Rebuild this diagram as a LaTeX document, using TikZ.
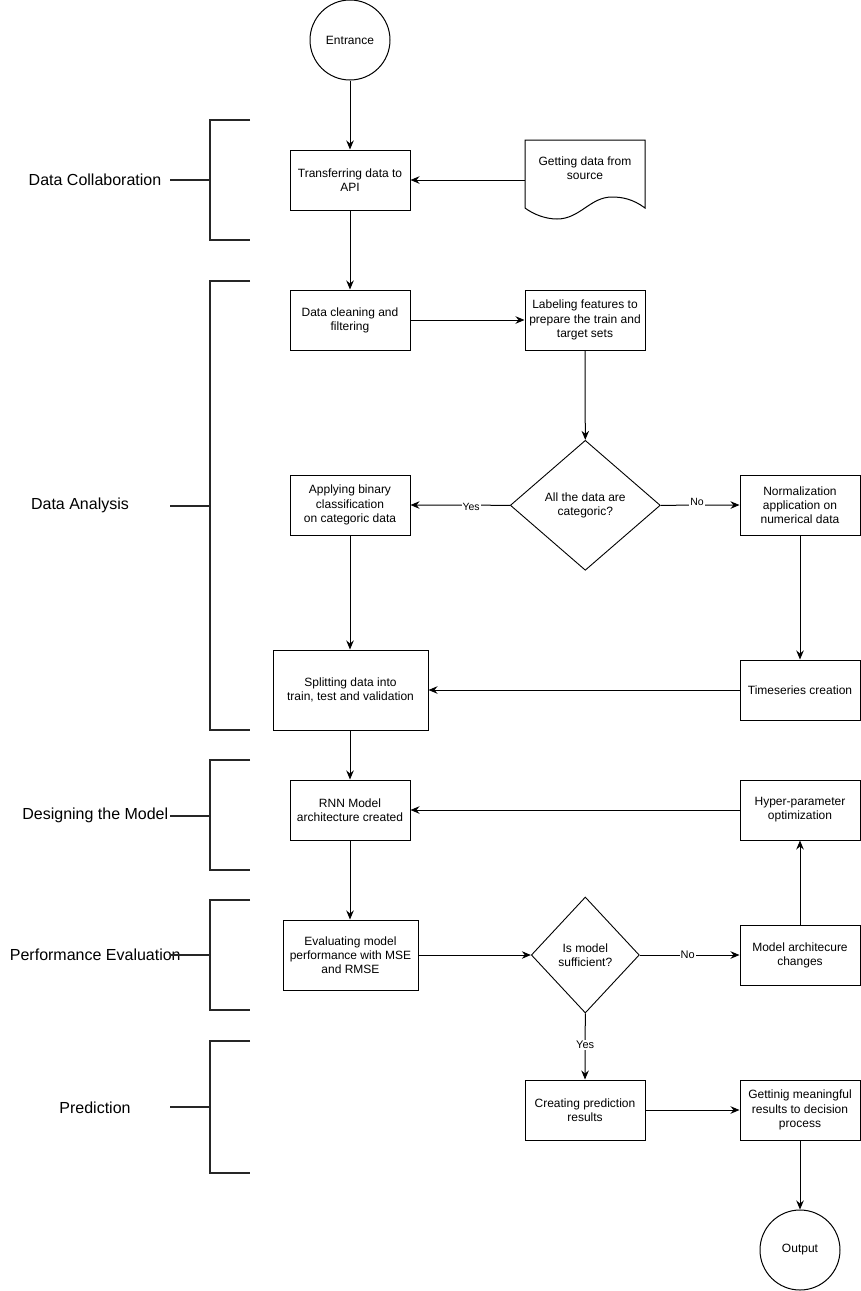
\documentclass[tikz,border=0pt]{standalone}
\usepackage{fontspec}
\setmainfont{Liberation Sans}
\usetikzlibrary{shapes.geometric,arrows.meta}
\begin{document}
\begin{tikzpicture}[x=1pt,y=-1pt,
 box/.style={draw,line width=1pt,align=center,inner sep=0pt,minimum width=120pt,minimum height=60pt,font=\fontsize{12}{14.2}\selectfont},
 dec/.style={diamond,draw,line width=0.9pt,align=center,inner sep=0pt,font=\fontsize{12}{14.2}\selectfont},
 term/.style={circle,draw,line width=1pt,minimum size=80pt,inner sep=0pt,font=\fontsize{12}{14}\selectfont},
 arr/.style={line width=1pt,-{Stealth[length=9pt,width=7.5pt,inset=3pt]}},
 labA/.style={font=\fontsize{10.5}{12}\selectfont,fill=white,inner sep=1pt},
 labB/.style={font=\fontsize{11}{13}\selectfont,fill=white,inner sep=1pt},
 brk/.style={line width=2pt,black!85},
 phase/.style={font=\fontsize{16}{19}\selectfont,inner sep=0pt}]
\useasboundingbox (0,0) rectangle (861,1291);

% phase labels and brackets
\node[phase] (p1) at (95,180) {Data Collaboration};
\node[phase] (p2) at (80,505) {Data Analysis};
\node[phase] (p3) at (95.3,815) {Designing the Model};
\node[phase] (p4) at (95.3,955) {Performance Evaluation};
\node[phase] (p5) at (95,1108) {Prediction};
\draw[brk] (250,120) -- (210,120) -- (210,240) -- (250,240);
\draw[brk] (170,180) -- (210,180);
\draw[brk] (250,281) -- (210,281) -- (210,730) -- (250,730);
\draw[brk] (170,505.5) -- (210,505.5);
\draw[brk] (250,760) -- (210,760) -- (210,870) -- (250,870);
\draw[brk] (170,815.5) -- (210,815.5);
\draw[brk] (250,900) -- (210,900) -- (210,1010) -- (250,1010);
\draw[brk] (170,955) -- (210,955);
\draw[brk] (250,1041) -- (210,1041) -- (210,1173) -- (250,1173);
\draw[brk] (170,1107) -- (210,1107);

% flow nodes
\node[term] (ent) at (350,40) {Entrance};
\node[box] (trans) at (350,180) {Transferring data to\\API};
\node[minimum width=120pt,minimum height=80pt,inner sep=0pt] (src) at (585,180) {};
\draw[line width=1pt] (525,208) -- (525,140) -- (645,140) -- (645,208)
  .. controls (633,199) and (622,197) .. (612,197)
  .. controls (590,197) and (580,219) .. (557,219)
  .. controls (545,219) and (533,214) .. (525,208);
\node[align=center,font=\fontsize{12}{14.2}\selectfont,inner sep=0pt] (srctext) at (585,168.5) {Getting data from\\source};
\node[box] (clean) at (350,320) {Data cleaning and\\filtering};
\node[box] (labl) at (585,320) {Labeling features to\\prepare the train and\\target sets};
\node[dec,minimum width=150pt,minimum height=130pt] (d1) at (585.3,505.3) {All the data are\\categoric?};
\node[box] (apply) at (350,505) {Applying binary\\classification\\on categoric data};
\node[box] (norm) at (800,505) {Normalization\\application on\\numerical data};
\node[box,minimum width=155pt,minimum height=80pt] (split) at (350.5,690) {Splitting data into\\train, test and validation};
\node[box] (ts) at (800,690) {Timeseries creation};
\node[box] (rnn) at (350,810) {RNN Model\\architecture created};
\node[box] (hyp) at (800,810) {Hyper-parameter\\optimization};
\node[box,minimum width=135pt,minimum height=70pt] (eval) at (350.5,955) {Evaluating model\\performance with MSE\\and RMSE};
\node[dec,minimum width=108pt,minimum height=116pt] (d2) at (585.3,955) {Is model\\sufficient?};
\node[box] (mac) at (800,955) {Model architecure\\changes};
\node[box] (cpr) at (585,1110) {Creating prediction\\results};
\node[box] (gm) at (800,1110) {Gettinig meaningful\\results to decision\\process};
\node[term] (out) at (800,1250) {Output};

% connectors
\draw[arr] (ent) -- (trans);
\draw[arr] (src.west) -- (trans.east);
\draw[arr] (trans) -- (clean);
\draw[arr] (clean) -- (labl);
\draw[arr] (labl.south) -- (d1.north);
\draw[arr] (d1.west) -- node[labA,pos=0.39,yshift=-2pt] (yes1) {Yes} (apply.east);
\draw[arr] (d1.east) -- node[labA,pos=0.46,yshift=3pt] (no1) {No} (norm.west);
\draw[arr] (apply) -- (split.north -| apply.south);
\draw[arr] (norm) -- (ts);
\draw[arr] (ts) -- (split);
\draw[arr] (split.south -| rnn.north) -- (rnn);
\draw[arr] (hyp) -- (rnn);
\draw[arr] (rnn) -- (eval.north -| rnn.south);
\draw[arr] (eval.east) -- (d2.west);
\draw[arr] (d2.east) -- node[labB,pos=0.48] (no2) {No} (mac.west);
\draw[arr] (mac) -- (hyp);
\draw[arr] (d2.south) -- node[labB,pos=0.48] (yes2) {Yes} (cpr.north);
\draw[arr] (cpr) -- (gm);
\draw[arr] (gm) -- (out);
\end{tikzpicture}
\end{document}
